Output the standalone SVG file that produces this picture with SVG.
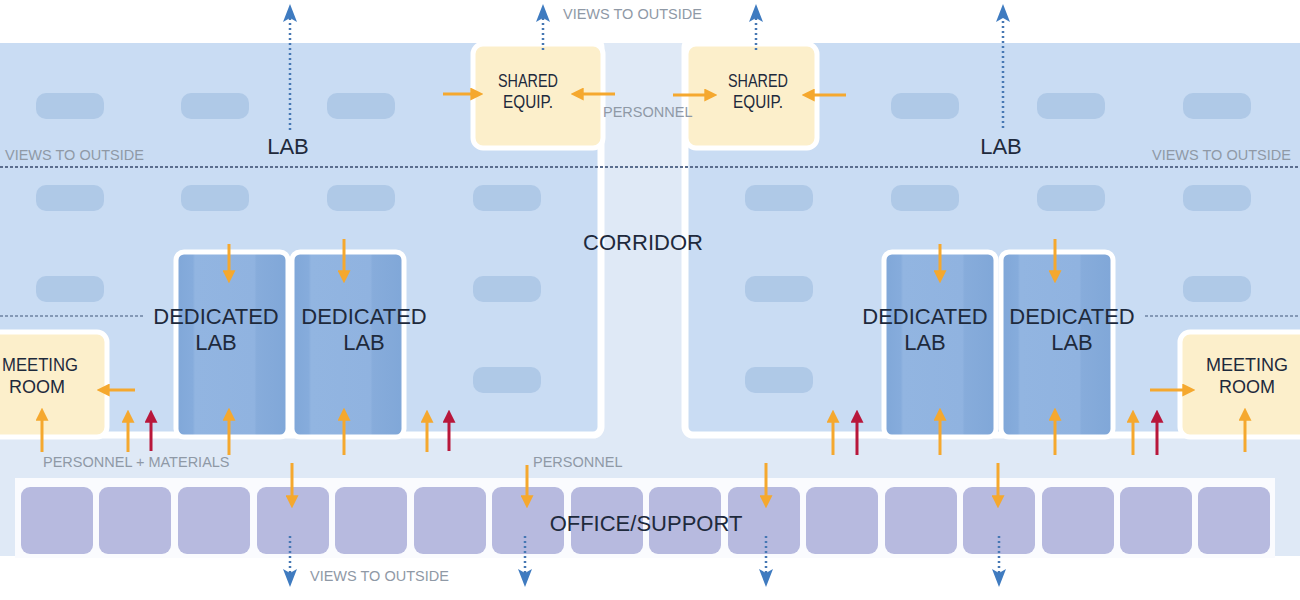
<svg xmlns="http://www.w3.org/2000/svg" width="1300" height="600" viewBox="0 0 1300 600">
<defs>
<style>
.lab{fill:#c9dcf3;stroke:#ffffff;stroke-width:7}
.bench{fill:#afc9e7}
.ded{fill:url(#dg);stroke:#ffffff;stroke-width:5}
.yel{fill:#fcefcb;stroke:#ffffff;stroke-width:5}
.off{fill:#b7badf}
.t{font-family:"Liberation Sans",Arial,sans-serif;fill:#1e2a3c;text-anchor:middle}
.big{font-size:22px}
.mid{font-size:18px}
.g{font-family:"Liberation Sans",Arial,sans-serif;fill:#8f99a6;font-size:14.5px}
.o{stroke:#f5a82e;stroke-width:3;fill:none;marker-end:url(#mo)}
.r{stroke:#b8173b;stroke-width:3;fill:none;marker-end:url(#mr)}
.b{stroke:#4677b3;stroke-width:2.5;stroke-dasharray:2 3;fill:none;marker-end:url(#mb)}
.dl{stroke:#5a6d8d;stroke-width:2;stroke-dasharray:3 2;fill:none}
.dl2{stroke:#6d82a3;stroke-width:1.5;stroke-dasharray:3 2;fill:none}
</style>
<linearGradient id="dg" x1="0" y1="0" x2="1" y2="0">
<stop offset="0" stop-color="#80a7d8"/>
<stop offset="0.15" stop-color="#86acdc"/>
<stop offset="0.17" stop-color="#92b5e1"/>
<stop offset="0.7" stop-color="#90b3e0"/>
<stop offset="0.72" stop-color="#87acdb"/>
<stop offset="1" stop-color="#80a7d8"/>
</linearGradient>
<marker id="mo" viewBox="0 0 12 12" refX="8" refY="6" markerWidth="13" markerHeight="13" markerUnits="userSpaceOnUse" orient="auto"><path d="M0,0 L12,6 L0,12 Z" fill="#f5a82e"/></marker>
<marker id="mr" viewBox="0 0 12 12" refX="8" refY="6" markerWidth="13" markerHeight="13" markerUnits="userSpaceOnUse" orient="auto"><path d="M0,0 L12,6 L0,12 Z" fill="#b8173b"/></marker>
<marker id="mb" viewBox="0 0 18 14" refX="4" refY="7" markerWidth="18" markerHeight="14" markerUnits="userSpaceOnUse" orient="auto"><path d="M0,0 L18,7 L0,14 L4,7 Z" fill="#3f7bc0"/></marker>
</defs>
<rect x="0" y="0" width="1300" height="600" fill="#ffffff"/>
<g id="corridor">
<rect x="-10" y="43" width="1320" height="513" fill="#dfe9f6"/>
<rect x="15" y="478" width="1260" height="80" fill="#fafbfe"/>
</g>
<g id="lab-left">
<rect class="lab" x="-20" y="39.5" width="621" height="395.5" rx="8"/>
<rect x="-20" y="30" width="640" height="13" fill="#ffffff"/>
<rect class="bench" x="36" y="93" width="68" height="26" rx="10"/>
<rect class="bench" x="181" y="93" width="68" height="26" rx="10"/>
<rect class="bench" x="327" y="93" width="68" height="26" rx="10"/>
<rect class="bench" x="36" y="185" width="68" height="26" rx="10"/>
<rect class="bench" x="181" y="185" width="68" height="26" rx="10"/>
<rect class="bench" x="327" y="185" width="68" height="26" rx="10"/>
<rect class="bench" x="473" y="185" width="68" height="26" rx="10"/>
<rect class="bench" x="36" y="276" width="68" height="26" rx="10"/>
<rect class="bench" x="473" y="276" width="68" height="26" rx="10"/>
<rect class="bench" x="473" y="367" width="68" height="26" rx="10"/>
<text class="t big" x="288" y="154">LAB</text>
</g>
<g id="lab-right">
<rect class="lab" x="685" y="39.5" width="640" height="395.5" rx="8"/>
<rect x="680" y="30" width="640" height="13" fill="#ffffff"/>
<rect class="bench" x="891" y="93" width="68" height="26" rx="10"/>
<rect class="bench" x="1037" y="93" width="68" height="26" rx="10"/>
<rect class="bench" x="1183" y="93" width="68" height="26" rx="10"/>
<rect class="bench" x="745" y="185" width="68" height="26" rx="10"/>
<rect class="bench" x="891" y="185" width="68" height="26" rx="10"/>
<rect class="bench" x="1037" y="185" width="68" height="26" rx="10"/>
<rect class="bench" x="1183" y="185" width="68" height="26" rx="10"/>
<rect class="bench" x="745" y="276" width="68" height="26" rx="10"/>
<rect class="bench" x="1183" y="276" width="68" height="26" rx="10"/>
<rect class="bench" x="745" y="367" width="68" height="26" rx="10"/>
<text class="t big" x="1001" y="154">LAB</text>
</g>
<g id="view-lines">
<line class="dl" x1="0" y1="167" x2="1300" y2="167"/>
<line class="dl2" x1="0" y1="316" x2="145" y2="316"/>
<line class="dl2" x1="1145" y1="316" x2="1300" y2="316"/>
<text class="g" x="5" y="160">VIEWS TO OUTSIDE</text>
<text class="g" x="1152" y="160">VIEWS TO OUTSIDE</text>
<text class="g" x="563" y="19">VIEWS TO OUTSIDE</text>
<text class="g" x="310" y="581">VIEWS TO OUTSIDE</text>
</g>
<g id="shared-equip-left">
<rect class="yel" x="473" y="44" width="130" height="104" rx="10"/>
<text class="t mid" x="528" y="87" textLength="60" lengthAdjust="spacingAndGlyphs">SHARED</text>
<text class="t mid" x="528" y="108" textLength="50" lengthAdjust="spacingAndGlyphs">EQUIP.</text>
</g>
<g id="shared-equip-right">
<rect class="yel" x="686" y="44" width="131" height="104" rx="10"/>
<text class="t mid" x="758" y="87" textLength="60" lengthAdjust="spacingAndGlyphs">SHARED</text>
<text class="t mid" x="758" y="108" textLength="50" lengthAdjust="spacingAndGlyphs">EQUIP.</text>
</g>
<g id="dedicated-lab-1">
<rect class="ded" x="176" y="252" width="112" height="185" rx="8"/>
</g>
<g id="dedicated-lab-2">
<rect class="ded" x="292" y="252" width="112" height="185" rx="8"/>
</g>
<g id="dedicated-lab-3">
<rect class="ded" x="884" y="252" width="112" height="185" rx="8"/>
</g>
<g id="dedicated-lab-4">
<rect class="ded" x="1001" y="252" width="112" height="185" rx="8"/>
</g>
<g id="meeting-room-left">
<rect class="yel" x="-20" y="332" width="127" height="105" rx="10"/>
<text class="t mid" x="40" y="371" textLength="76" lengthAdjust="spacingAndGlyphs">MEETING</text>
<text class="t mid" x="37" y="393">ROOM</text>
</g>
<g id="meeting-room-right">
<rect class="yel" x="1180" y="332" width="140" height="105" rx="10"/>
<text class="t mid" x="1247" y="371">MEETING</text>
<text class="t mid" x="1247" y="393">ROOM</text>
</g>
<g id="office-support">
<rect class="off" x="21" y="487" width="72" height="67" rx="9"/>
<rect class="off" x="99" y="487" width="72" height="67" rx="9"/>
<rect class="off" x="178" y="487" width="72" height="67" rx="9"/>
<rect class="off" x="257" y="487" width="72" height="67" rx="9"/>
<rect class="off" x="335" y="487" width="72" height="67" rx="9"/>
<rect class="off" x="414" y="487" width="72" height="67" rx="9"/>
<rect class="off" x="492" y="487" width="72" height="67" rx="9"/>
<rect class="off" x="571" y="487" width="72" height="67" rx="9"/>
<rect class="off" x="649" y="487" width="72" height="67" rx="9"/>
<rect class="off" x="728" y="487" width="72" height="67" rx="9"/>
<rect class="off" x="806" y="487" width="72" height="67" rx="9"/>
<rect class="off" x="885" y="487" width="72" height="67" rx="9"/>
<rect class="off" x="963" y="487" width="72" height="67" rx="9"/>
<rect class="off" x="1042" y="487" width="72" height="67" rx="9"/>
<rect class="off" x="1120" y="487" width="72" height="67" rx="9"/>
<rect class="off" x="1198" y="487" width="72" height="67" rx="9"/>
<text class="t big" x="646" y="531">OFFICE/SUPPORT</text>
</g>
<g id="labels">
<text class="t big" x="643" y="250">CORRIDOR</text>
<text class="t big" x="216" y="324">DEDICATED</text>
<text class="t big" x="216" y="350">LAB</text>
<text class="t big" x="364" y="324">DEDICATED</text>
<text class="t big" x="364" y="350">LAB</text>
<text class="t big" x="925" y="324">DEDICATED</text>
<text class="t big" x="925" y="350">LAB</text>
<text class="t big" x="1072" y="324">DEDICATED</text>
<text class="t big" x="1072" y="350">LAB</text>
<text class="g" x="603" y="117" font-size="14">PERSONNEL</text>
<text class="g" x="43" y="467">PERSONNEL + MATERIALS</text>
<text class="g" x="533" y="467">PERSONNEL</text>
</g>
<g id="connectors">
<path class="o" d="M443,94 H479"/>
<path class="o" d="M615,94 H575"/>
<path class="o" d="M673,95 H713"/>
<path class="o" d="M846,95 H806"/>
<path class="o" d="M229,244 V279"/>
<path class="o" d="M344,239 V279"/>
<path class="o" d="M940,244 V279"/>
<path class="o" d="M1055,239 V279"/>
<path class="o" d="M229,455 V412"/>
<path class="o" d="M344,455 V412"/>
<path class="o" d="M940,455 V412"/>
<path class="o" d="M1055,455 V412"/>
<path class="o" d="M135,390 H101"/>
<path class="o" d="M1150,390 H1191"/>
<path class="o" d="M42,452 V412"/>
<path class="o" d="M1245,452 V412"/>
<path class="o" d="M128,452 V414"/>
<path class="o" d="M427,452 V414"/>
<path class="o" d="M833,455 V414"/>
<path class="o" d="M1133,455 V414"/>
<path class="o" d="M292,463 V504"/>
<path class="o" d="M527,465 V504"/>
<path class="o" d="M766,463 V504"/>
<path class="o" d="M998,463 V504"/>
<path class="r" d="M151,451 V414"/>
<path class="r" d="M449,451 V414"/>
<path class="r" d="M857,455 V414"/>
<path class="r" d="M1157,455 V414"/>
<path class="b" d="M290,130 V18"/>
<path class="b" d="M543,50 V18"/>
<path class="b" d="M756,50 V18"/>
<path class="b" d="M1003,128 V18"/>
<path class="b" d="M290,536 V573"/>
<path class="b" d="M525,536 V573"/>
<path class="b" d="M766,536 V573"/>
<path class="b" d="M999,536 V573"/>
</g>
</svg>
